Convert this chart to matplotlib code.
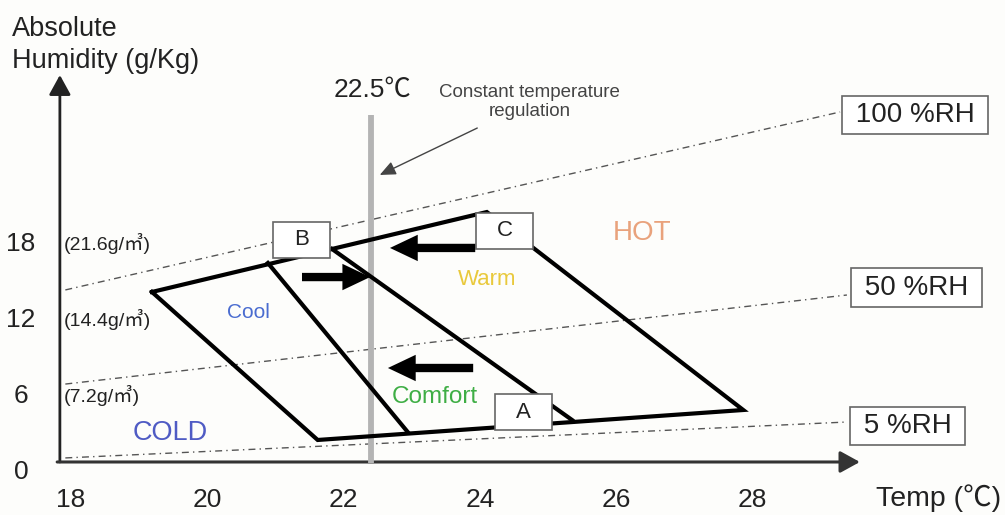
import matplotlib
matplotlib.use('Agg')
import matplotlib.pyplot as plt
from matplotlib.patches import Rectangle

plt.rcParams['font.family'] = ['Liberation Sans', 'Noto Sans CJK JP', 'DejaVu Sans']

# axis ticks
x_ticks = [18, 20, 22, 24, 26, 28]
y_ticks = [0, 6, 12, 18]
abs_labels = ['(21.6g/㎥)', '(14.4g/㎥)', '(7.2g/㎥)']
abs_levels = [18, 12, 6]

# relative humidity lines: start / end (temp, humidity)
rh_names = ['100 %RH', '50 %RH', '5 %RH']
rh_t0 = [17.92, 17.92, 17.92]
rh_h0 = [14.36, 6.92, 1.08]
rh_t1 = [29.28, 29.38, 29.38]
rh_h1 = [28.43, 13.96, 3.92]
rh_box_t = [30.38, 30.40, 30.27]
rh_box_h = [28.19, 14.55, 3.60]

# outline of the comfort chart
outline_t = [19.19, 24.10, 27.86, 21.62, 19.19]
outline_h = [14.20, 20.52, 4.87, 2.50, 14.20]
# inner dividers
div_t = [[20.89, 22.94], [21.83, 25.35]]
div_h = [[16.49, 3.13], [17.60, 4.08]]

points = ['A', 'B', 'C']
point_t = [24.64, 21.38, 24.36]
point_h = [4.71, 18.31, 19.02]

zones = ['COLD', 'Cool', 'Comfort', 'Warm', 'HOT']
zone_t = [19.46, 20.60, 23.34, 24.10, 26.38]
zone_h = [3.05, 12.54, 5.90, 15.15, 18.86]
zone_col = ['#4f5bc4', '#4a6cd0', '#3fae45', '#e9c93c', '#e9a27c']
zone_fs = [19.5, 15, 17.5, 16, 20]

set_temp = 22.4
set_label = '22.5℃'

# shift arrows toward set temperature
shift_t0 = [21.39, 23.93, 23.90]
shift_t1 = [22.39, 22.68, 22.65]
shift_h = [15.38, 17.68, 8.19]

fig = plt.figure(figsize=(10.05, 5.15), dpi=100)
fig.patch.set_facecolor('#fdfdfb')
ax = fig.add_axes([0, 0, 1, 1])
ax.set_xlim(16.962, 31.698)
ax.set_ylim(-3.431, 37.281)
ax.axis('off')

# axes with arrows
ax.annotate('', xy=(17.84, 31.35), xytext=(17.84, 0.76),
            arrowprops=dict(arrowstyle='-|>,head_length=1.0,head_width=0.55', mutation_scale=12,
                            color='#222', lw=2, shrinkA=0, shrinkB=0))
ax.annotate('', xy=(29.57, 0.76), xytext=(17.80, 0.76),
            arrowprops=dict(arrowstyle='-|>,head_length=1.0,head_width=0.55', mutation_scale=12,
                            color='#333', lw=2.2, shrinkA=0, shrinkB=0))

for t in x_ticks:
    ax.text(t, -2.25, str(t), ha='center', va='center', fontsize=19, color='#222')
for h in y_ticks:
    ax.text(17.27, h, str(h), ha='center', va='center', fontsize=19, color='#222')
for lab, h in zip(abs_labels, abs_levels):
    ax.text(17.89, h, lab, ha='left', va='center', fontsize=14, color='#222')

ax.text(17.14, 33.7, 'Absolute\nHumidity (g/Kg)', ha='left', va='center', fontsize=19.5,
        color='#222', linespacing=1.3)
ax.text(30.73, -2.09, 'Temp (℃)', ha='center', va='center', fontsize=20.5, color='#222')

# RH lines
for i in range(3):
    ax.plot([rh_t0[i], rh_t1[i]], [rh_h0[i], rh_h1[i]], color='#555', lw=1,
            ls=(0, (5, 3, 1, 3)), zorder=2)
    ax.text(rh_box_t[i], rh_box_h[i], ' ' + rh_names[i] + ' ', ha='center', va='center',
            fontsize=20, color='#222', zorder=5,
            bbox=dict(boxstyle='square,pad=0.22', fc='white', ec='#666', lw=1.2))

# set temperature line
ax.plot([set_temp, set_temp], [0.68, 28.19], color='#b4b4b4', lw=4.2, zorder=3,
        solid_capstyle='butt')
ax.text(22.43, 30.17, set_label, ha='center', va='center', fontsize=19, color='#222')
ax.text(24.73, 29.22, 'Constant temperature\nregulation', ha='center', va='center',
        fontsize=13.5, color='#444', linespacing=1.12)
ax.annotate('', xy=(22.53, 23.45), xytext=(23.96, 27.16),
            arrowprops=dict(arrowstyle='-|>,head_length=0.8,head_width=0.35', mutation_scale=12,
                            color='#444', lw=1, shrinkA=0, shrinkB=0))

# comfort chart zones
ax.plot(outline_t, outline_h, color='black', lw=3, zorder=4, solid_joinstyle='miter')
for tt, hh in zip(div_t, div_h):
    ax.plot(tt, hh, color='black', lw=3, zorder=4)

for name, t, h in zip(points, point_t, point_h):
    ax.add_patch(Rectangle((t - 0.42, h - 1.4), 0.84, 2.8, fc='white', ec='#666',
                           lw=1.2, zorder=6))
    ax.text(t, h, name, ha='center', va='center', fontsize=16, color='#222', zorder=7)

for name, t, h, c, fs in zip(zones, zone_t, zone_h, zone_col, zone_fs):
    ax.text(t, h, name, ha='center', va='center', fontsize=fs, color=c, zorder=5)

for t0, t1, h in zip(shift_t0, shift_t1, shift_h):
    ax.annotate('', xy=(t1, h), xytext=(t0, h),
                arrowprops=dict(arrowstyle='simple,head_length=1.0,head_width=0.95,tail_width=0.3',
                                mutation_scale=20, fc='black', ec='black', lw=0,
                                shrinkA=0, shrinkB=0), zorder=6)

fig.savefig('out.png', dpi=100, facecolor=fig.get_facecolor())
